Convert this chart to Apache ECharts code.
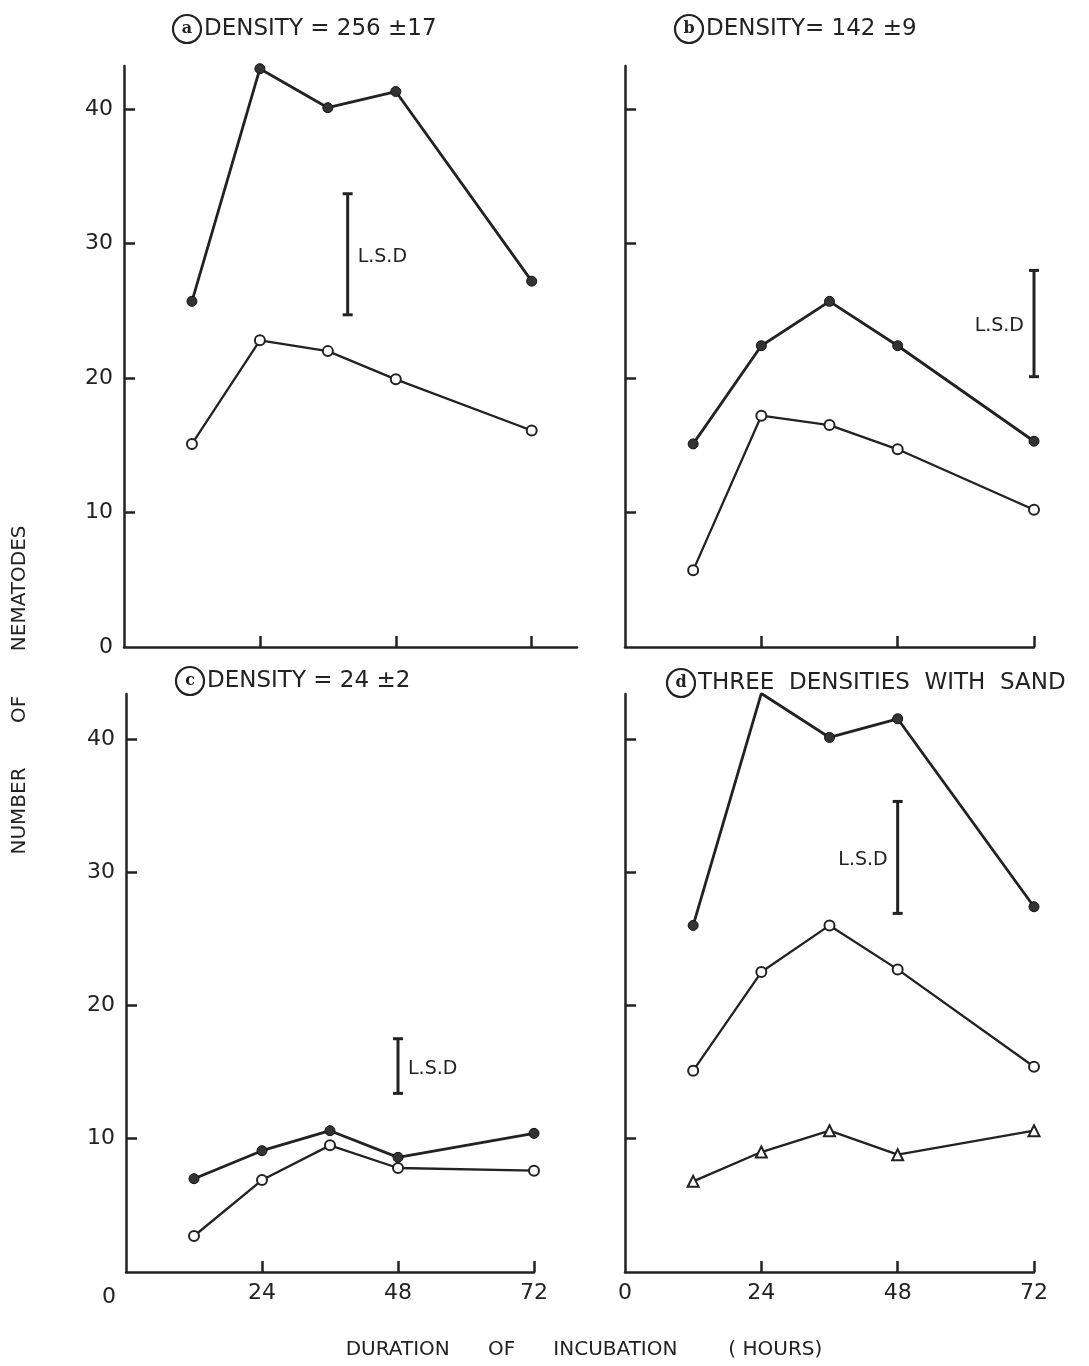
<!DOCTYPE html>
<html>
<head>
<meta charset="utf-8">
<script src="https://cdn.jsdelivr.net/npm/echarts@6/dist/echarts.min.js"></script>
<style>
html, body { margin: 0; padding: 0; background: #fff; }
#c_container { width: 1089px; height: 1366px; }
</style>
</head>
<body>
<div id="c_container"></div>
<script>
// sampling times (hours) shared by every panel
var hours = [12, 24, 36, 48, 72];
var xTickValues = [0, 24, 48, 72];
var yTickValues = [0, 10, 20, 30, 40];

// (a) density 256 +- 17
var aFilled = [25.7, 43.0, 40.1, 41.3, 27.2];
var aOpen = [15.1, 22.8, 22.0, 19.9, 16.1];
var aLsd = [39.5, 24.7, 33.7]; // x, low, high

// (b) density 142 +- 9
var bFilled = [15.1, 22.4, 25.7, 22.4, 15.3];
var bOpen = [5.7, 17.2, 16.5, 14.7, 10.2];
var bLsd = [72, 20.1, 28.0];

// (c) density 24 +- 2
var cFilled = [7.0, 9.1, 10.6, 8.6, 10.4];
var cOpen = [2.7, 6.9, 9.5, 7.8, 7.6];
var cLsd = [48, 13.4, 17.5];

// (d) three densities with sand
var dFilled = [26.0, 43.4, 40.1, 41.5, 27.4];
var dOpen = [15.1, 22.5, 26.0, 22.7, 15.4];
var dTriangle = [6.8, 9.0, 10.6, 8.8, 10.6];
var dLsd = [48, 26.9, 35.3];

var panelLetters = ["a", "b", "c", "d"];
var panelTitles = ["DENSITY = 256 ±17", "DENSITY= 142 ±9", "DENSITY = 24 ±2", "THREE  DENSITIES  WITH  SAND"];

var ink = "#222";
var font = "DejaVu Sans";

var myChart = echarts.init(document.getElementById("c_container"));

function pairs(values) {
  return hours.map(function (h, i) {
    return [h, values[i]];
  });
}

var grids = [
  { left: 124, top: 66, width: 453, height: 581 },
  { left: 625, top: 66, width: 409, height: 581 },
  { left: 126, top: 694, width: 408, height: 578 },
  { left: 625, top: 694, width: 409, height: 578 },
];
grids.forEach(function (g) {
  g.containLabel = false;
  g.outerBoundsMode = "none";
});

var xMax = [80, 72, 72, 72];
var yMax = [43.2, 43.2, 43.36, 43.36];

function xAxisCfg(i) {
  var showLabels = i >= 2;
  return {
    type: "value",
    gridIndex: i,
    min: 0,
    max: xMax[i],
    splitLine: { show: false },
    axisLine: { lineStyle: { color: ink, width: 2.5 } },
    axisTick: {
      inside: true,
      length: 11,
      customValues: [24, 48, 72],
      lineStyle: { color: ink, width: 2.5 },
    },
    axisLabel: {
      show: showLabels,
      customValues: xTickValues,
      margin: 10,
      color: ink,
      fontSize: 22,
      fontFamily: font,
      formatter: function (v) {
        // the "0" under panel c sits left of the origin
        if (v === 0 && i === 2) return "{z|0}";
        return String(v);
      },
      rich: {
        z: { fontSize: 22, fontFamily: font, color: ink, padding: [4, 34, 0, 0] },
      },
    },
  };
}

function yAxisCfg(i) {
  var labelValues = i === 0 ? yTickValues : i === 2 ? [10, 20, 30, 40] : [];
  return {
    type: "value",
    gridIndex: i,
    min: 0,
    max: yMax[i],
    splitLine: { show: false },
    axisLine: { lineStyle: { color: ink, width: 2.5 } },
    axisTick: {
      inside: true,
      length: 11,
      customValues: [10, 20, 30, 40],
      lineStyle: { color: ink, width: 2.5 },
    },
    axisLabel: {
      show: labelValues.length > 0,
      customValues: labelValues,
      margin: 11,
      color: ink,
      fontSize: 22,
      fontFamily: font,
    },
  };
}

function filledSeries(i, values) {
  return {
    type: "line",
    xAxisIndex: i,
    yAxisIndex: i,
    data: pairs(values),
    symbol: "circle",
    symbolSize: 10,
    itemStyle: { color: "#333", borderColor: "#111", borderWidth: 1 },
    lineStyle: { color: ink, width: 2.8 },
    animation: false,
    z: 3,
  };
}

function openSeries(i, values, symbol) {
  return {
    type: "line",
    xAxisIndex: i,
    yAxisIndex: i,
    data: pairs(values),
    symbol: symbol || "emptyCircle",
    symbolSize: symbol ? 11 : 10,
    itemStyle: { color: ink, borderColor: ink, borderWidth: 1.6 },
    lineStyle: { color: ink, width: 2.3 },
    animation: false,
    z: 3,
  };
}

// label side of the L.S.D bar: 1 = right, -1 = left
var lsdSide = [1, -1, 1, -1];

function lsdSeries(i, lsd) {
  return {
    type: "custom",
    xAxisIndex: i,
    yAxisIndex: i,
    data: [lsd],
    animation: false,
    renderItem: function (params, api) {
      var top = api.coord([api.value(0), api.value(2)]);
      var bottom = api.coord([api.value(0), api.value(1)]);
      var st = { stroke: ink, lineWidth: 3 };
      var side = lsdSide[i];
      return {
        type: "group",
        children: [
          { type: "line", shape: { x1: top[0], y1: top[1], x2: bottom[0], y2: bottom[1] }, style: st },
          { type: "line", shape: { x1: top[0] - 5, y1: top[1], x2: top[0] + 5, y2: top[1] }, style: st },
          { type: "line", shape: { x1: bottom[0] - 5, y1: bottom[1], x2: bottom[0] + 5, y2: bottom[1] }, style: st },
          {
            type: "text",
            x: top[0] + side * 10,
            y: (top[1] + bottom[1]) / 2 + 3,
            style: {
              text: "L.S.D",
              fill: ink,
              fontSize: 19,
              fontFamily: font,
              align: side > 0 ? "left" : "right",
              verticalAlign: "middle",
            },
          },
        ],
      };
    },
  };
}

var titlePos = [
  { left: 168, top: 11 },
  { left: 670, top: 11 },
  { left: 171, top: 663 },
  { left: 662, top: 665 },
];

var titles = panelTitles.map(function (t, i) {
  return {
    left: titlePos[i].left,
    top: titlePos[i].top,
    text: "{c|" + panelLetters[i] + "}{t|" + t + "}",
    textStyle: {
      rich: {
        c: {
          width: 26,
          height: 26,
          lineHeight: 26,
          align: "center",
          verticalAlign: "middle",
          borderRadius: 15,
          borderWidth: 2.2,
          borderColor: ink,
          padding: [1, 1, 1, 1],
          fontSize: 16,
          fontWeight: "bold",
          fontFamily: "DejaVu Serif",
          color: ink,
        },
        t: {
          fontSize: 23,
          fontWeight: "normal",
          fontFamily: font,
          color: ink,
          verticalAlign: "middle",
          padding: [0, 0, 0, 3],
        },
      },
    },
  };
});

var nameStyle = { fill: ink, fontSize: 20, fontFamily: font, align: "center", verticalAlign: "middle" };

myChart.setOption({
  backgroundColor: "#fff",
  animation: false,
  title: titles,
  grid: grids,
  xAxis: [0, 1, 2, 3].map(xAxisCfg),
  yAxis: [0, 1, 2, 3].map(yAxisCfg),
  graphic: [
    {
      type: "text",
      x: 20,
      y: 690,
      rotation: Math.PI / 2,
      style: Object.assign({ text: "NUMBER       OF       NEMATODES" }, nameStyle),
    },
    {
      type: "text",
      x: 584,
      y: 1350,
      style: Object.assign({ text: "DURATION      OF      INCUBATION        ( HOURS)" }, nameStyle),
    },
  ],
  series: [
    filledSeries(0, aFilled),
    openSeries(0, aOpen),
    lsdSeries(0, aLsd),
    filledSeries(1, bFilled),
    openSeries(1, bOpen),
    lsdSeries(1, bLsd),
    filledSeries(2, cFilled),
    openSeries(2, cOpen),
    lsdSeries(2, cLsd),
    filledSeries(3, dFilled),
    openSeries(3, dOpen),
    openSeries(3, dTriangle, "emptyTriangle"),
    lsdSeries(3, dLsd),
  ],
});
</script>
</body>
</html>
